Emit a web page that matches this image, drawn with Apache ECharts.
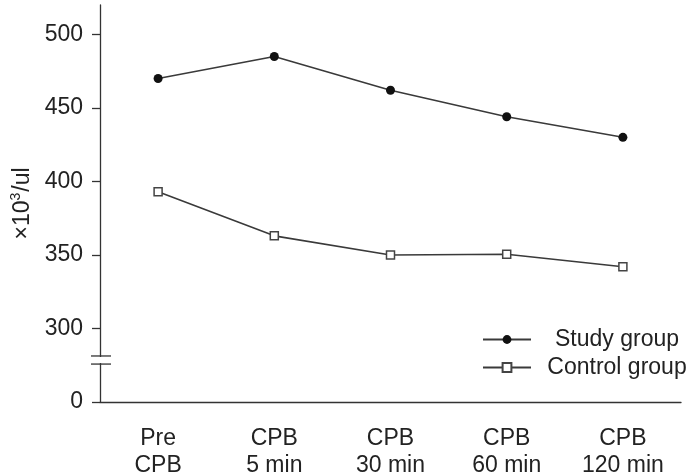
<!DOCTYPE html>
<html>
<head>
<meta charset="utf-8">
<script src="https://cdn.jsdelivr.net/npm/echarts@6/dist/echarts.min.js"></script>
<style>
html,body{margin:0;padding:0;background:#fff;}
#c{width:690px;height:475px;}
</style>
</head>
<body>
<div id="c"></div>
<script>
var categories = ['Pre\nCPB', 'CPB\n5 min', 'CPB\n30 min', 'CPB\n60 min', 'CPB\n120 min'];
var studyGroup = [470, 485, 462, 444, 430];
var controlGroup = [393, 363, 350, 350.5, 342];
var yTickValues = [250, 300, 350, 400, 450, 500];
var yTickLabels = ['0', '300', '350', '400', '450', '500'];
var seriesNames = ['Study group', 'Control group'];

var FONT = '"Liberation Sans", Arial, sans-serif';
var TXT = '#222';
var AX = '#333';

var chart = echarts.init(document.getElementById('c'), null, {renderer: 'canvas'});
var option = {
  animation: false,
  backgroundColor: '#fff',
  textStyle: {fontFamily: FONT},
  grid: {left: 100, right: 9, top: 5, bottom: 73, containLabel: false, outerBoundsMode: 'none'},
  legend: {
    orient: 'vertical',
    left: 482,
    top: 328,
    padding: 0,
    itemWidth: 48,
    itemHeight: 11,
    itemGap: 5,
    data: seriesNames,
    formatter: function (n) { return '{t|' + n + '}'; },
    textStyle: {
      color: TXT, fontFamily: FONT, fontSize: 23,
      rich: {t: {width: 162, align: 'center', fontSize: 23, lineHeight: 27, color: TXT, fontFamily: FONT}}
    }
  },
  xAxis: {
    type: 'category',
    data: categories,
    boundaryGap: true,
    axisLine: {lineStyle: {color: AX, width: 1.3}},
    axisTick: {length: 8, lineStyle: {color: AX, width: 1.3}},
    axisLabel: {color: TXT, fontSize: 23, lineHeight: 27, margin: 23, fontFamily: FONT, interval: 0},
    splitLine: {show: false}
  },
  yAxis: {
    type: 'value',
    min: 250,
    max: 520,
    interval: 50,
    name: '{n|\u00d710}{s|3}{n|/ul}',
    nameLocation: 'middle',
    nameRotate: 90,
    nameGap: 64,
    nameTextStyle: {
      color: TXT, fontSize: 23, fontFamily: FONT,
      rich: {
        n: {fontSize: 23, color: TXT, fontFamily: FONT},
        s: {fontSize: 14, color: TXT, fontFamily: FONT, padding: [0, 1, 12, 0]}
      }
    },
    axisLine: {show: true, lineStyle: {color: AX, width: 1.3}},
    axisTick: {show: true, length: 8, lineStyle: {color: AX, width: 1.3}, customValues: yTickValues},
    axisLabel: {
      color: TXT, fontSize: 23, margin: 17, fontFamily: FONT,
      customValues: yTickValues,
      formatter: function (v) {
        var i = yTickValues.indexOf(v);
        return i >= 0 ? yTickLabels[i] : '';
      }
    },
    splitLine: {show: false}
  },
  series: [
    {
      name: seriesNames[0],
      type: 'line',
      data: studyGroup,
      symbol: 'circle',
      symbolSize: 9,
      showAllSymbol: true,
      lineStyle: {color: '#3a3a3a', width: 1.6},
      itemStyle: {color: '#111', borderColor: '#111', borderWidth: 0}
    },
    {
      name: seriesNames[1],
      type: 'line',
      data: controlGroup,
      symbol: 'rect',
      symbolSize: 8,
      showAllSymbol: true,
      lineStyle: {color: '#3a3a3a', width: 1.6},
      itemStyle: {color: '#fff', borderColor: '#444', borderWidth: 1.5}
    }
  ]
};
chart.setOption(option);

// axis break marks on the y axis (between the 0 tick and the 300 tick)
var x0 = chart.convertToPixel({xAxisIndex: 0}, 0);
var x1 = chart.convertToPixel({xAxisIndex: 0}, 1);
var ax = x0 - (x1 - x0) / 2;
var yA = chart.convertToPixel({yAxisIndex: 0}, 281.3);
var yB = chart.convertToPixel({yAxisIndex: 0}, 275.8);
chart.setOption({
  graphic: [
    {type: 'rect', shape: {x: ax - 3, y: yA + 1, width: 6, height: yB - yA - 2}, style: {fill: '#fff'}, z: 100},
    {type: 'line', shape: {x1: ax - 9, y1: yA, x2: ax + 11, y2: yA}, style: {stroke: AX, lineWidth: 1.3}, z: 101},
    {type: 'line', shape: {x1: ax - 9, y1: yB, x2: ax + 11, y2: yB}, style: {stroke: AX, lineWidth: 1.3}, z: 101}
  ]
});
</script>
</body>
</html>
